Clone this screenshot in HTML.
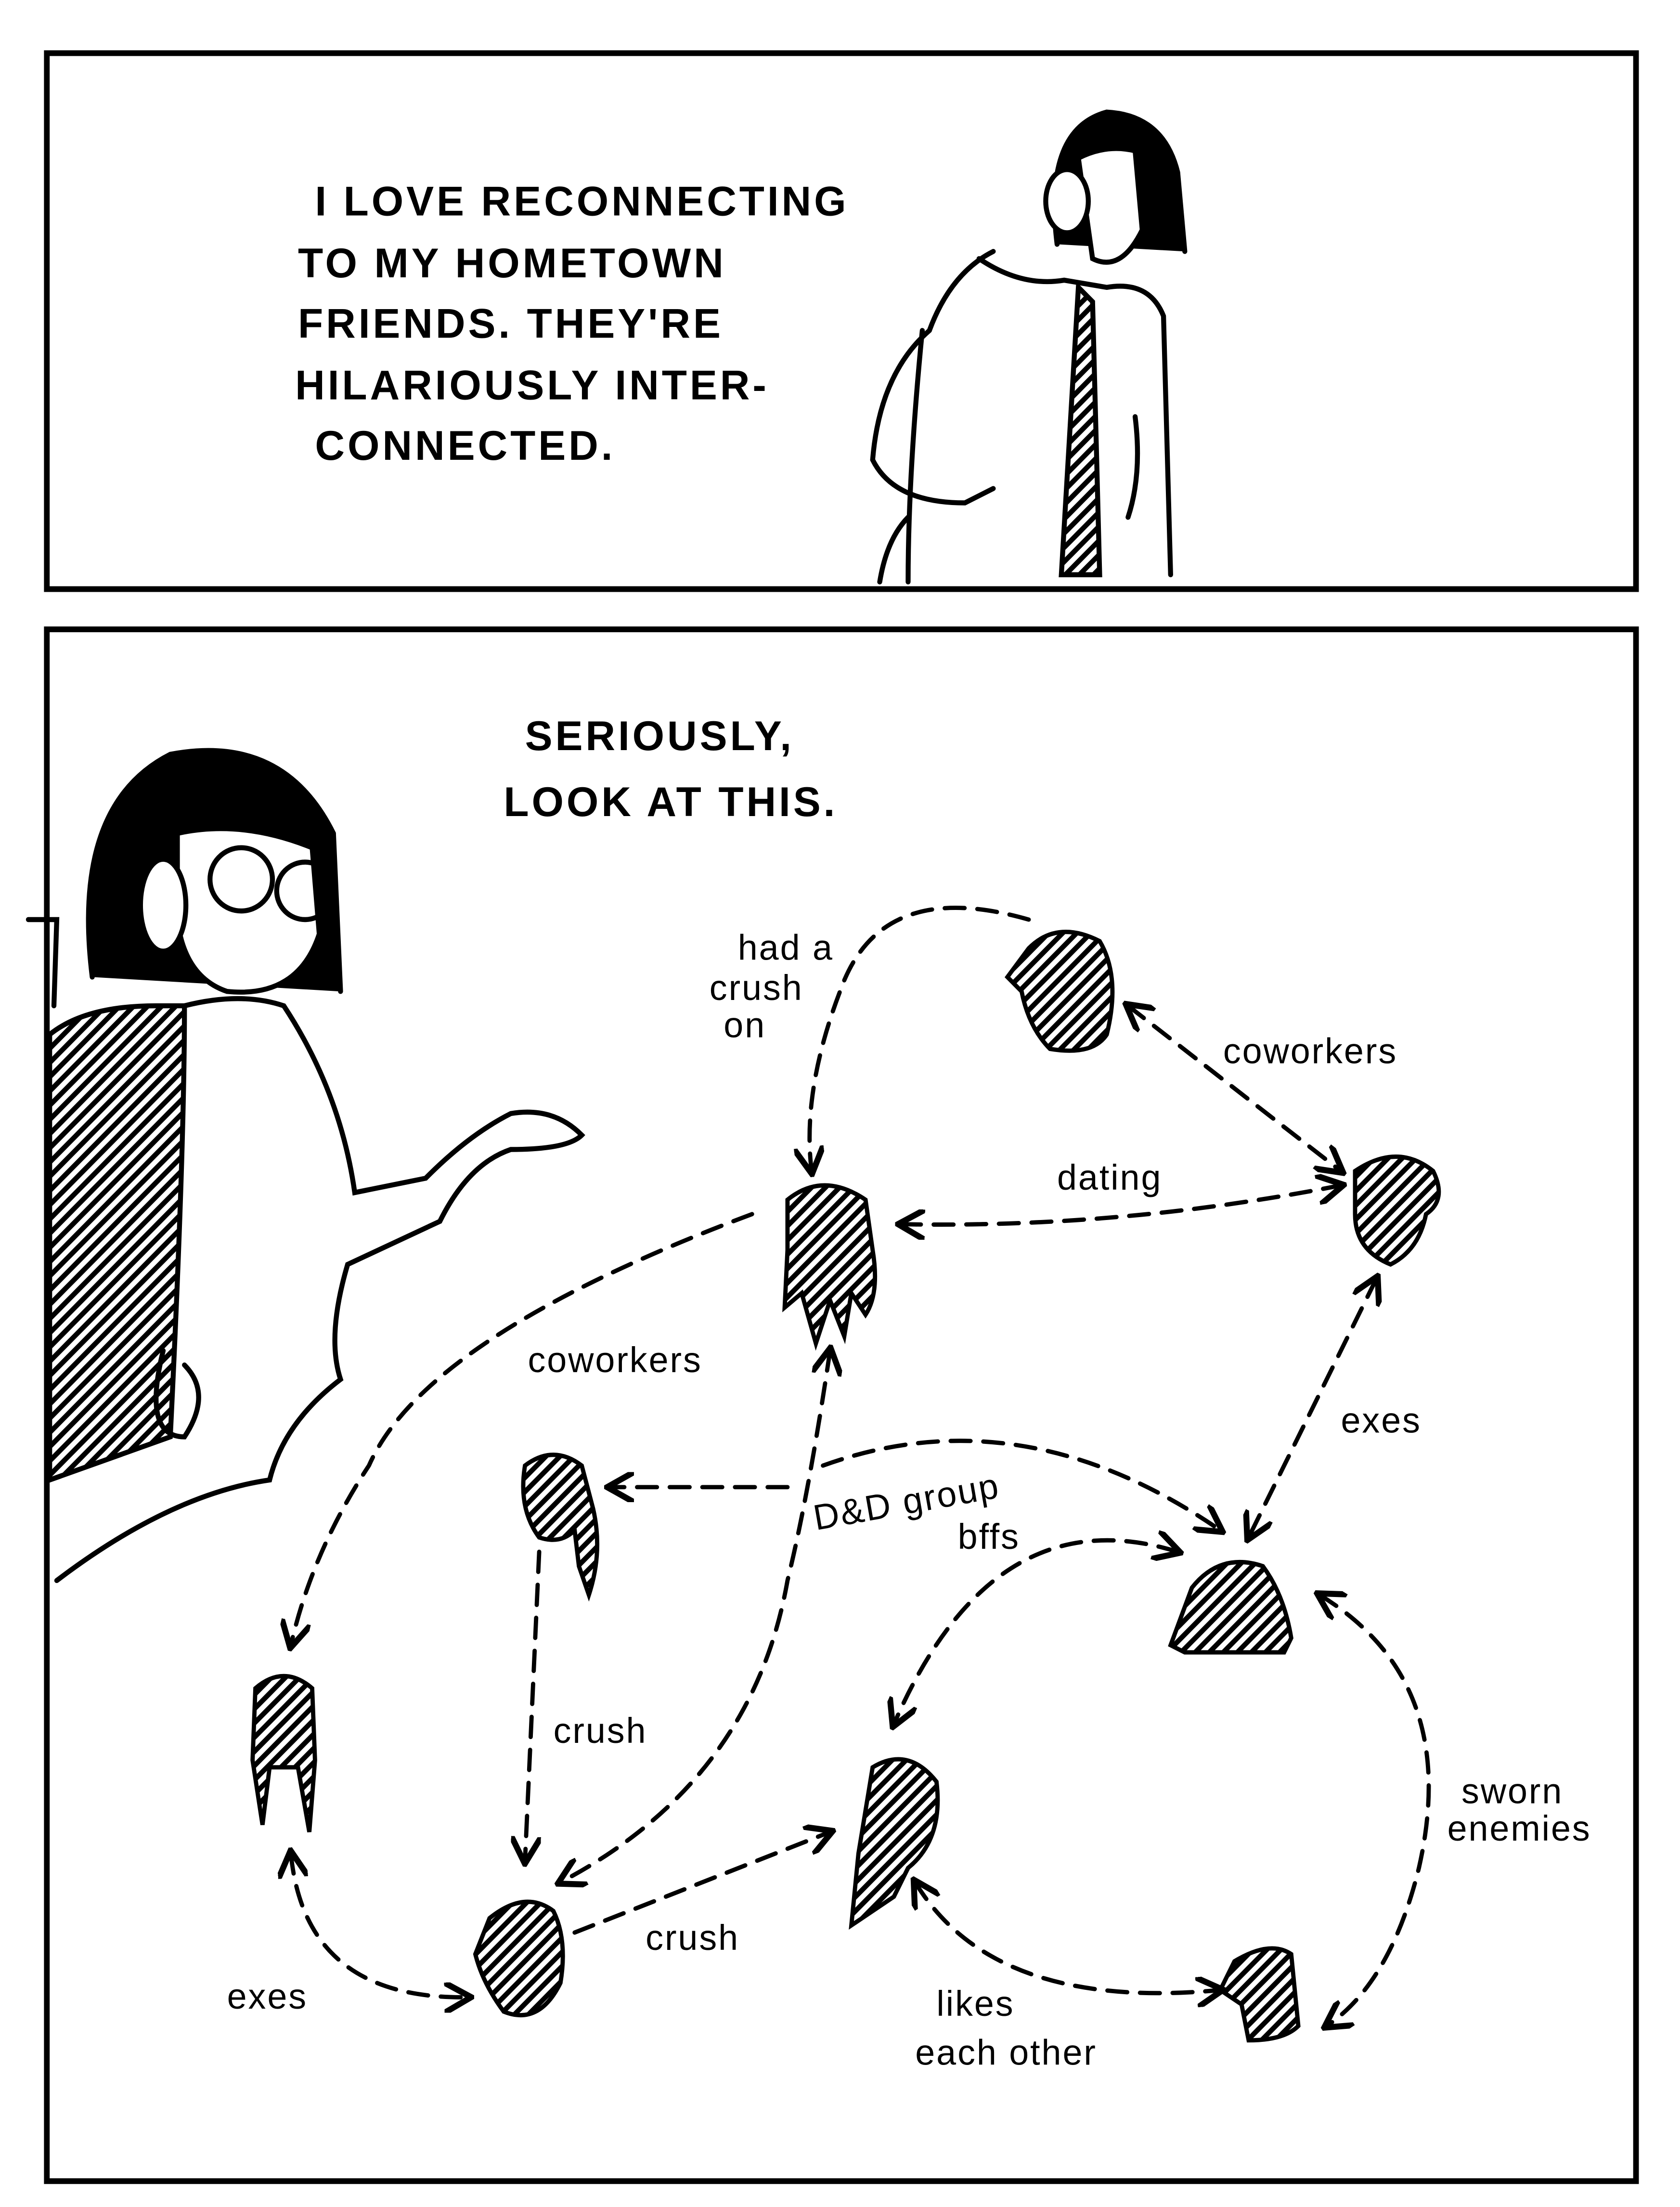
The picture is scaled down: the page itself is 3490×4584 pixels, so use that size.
<!DOCTYPE html>
<html><head><meta charset="utf-8"><style>
html,body{margin:0;padding:0;background:#fff;}
svg{display:block;}
text{font-family:"Liberation Sans",sans-serif;fill:#000;}
.cap{font-size:29px;font-weight:bold;letter-spacing:2px;}
.lbl{font-size:25px;letter-spacing:1px;}
</style></head><body>
<svg width="3490" height="4584" viewBox="0 0 1184 1536" preserveAspectRatio="none" xmlns="http://www.w3.org/2000/svg">
<defs>
<pattern id="h" width="7" height="7" patternUnits="userSpaceOnUse" patternTransform="rotate(45)">
<rect width="7" height="7" fill="#fff"/><rect width="3.5" height="7" fill="#000"/></pattern>
<marker id="a" viewBox="0 0 10 10" refX="8" refY="5" markerWidth="7" markerHeight="7" orient="auto-start-reverse">
<path d="M0,0 L9,5 L0,10" fill="none" stroke="#000" stroke-width="2"/></marker>
</defs>
<rect x="0" y="0" width="1184" height="1536" fill="#fff"/>
<rect x="33" y="37" width="1120" height="373" fill="none" stroke="#000" stroke-width="4"/>
<rect x="33" y="438" width="1120" height="1080" fill="none" stroke="#000" stroke-width="4"/>

<g class="cap">
<text x="222" y="150">I LOVE RECONNECTING</text>
<text x="210" y="193">TO MY HOMETOWN</text>
<text x="210" y="235">FRIENDS. THEY'RE</text>
<text x="208" y="278">HILARIOUSLY INTER-</text>
<text x="222" y="320">CONNECTED.</text>
<text x="370" y="522">SERIOUSLY,</text>
<text x="355" y="568">LOOK AT THIS.</text>
</g>

<!-- top person -->
<g fill="none" stroke="#000" stroke-width="3.5" stroke-linecap="round">
<path d="M745,170 Q735,90 780,78 Q820,80 830,120 L835,175" fill="#000"/>
<path d="M760,110 Q780,100 800,105 L805,160 Q790,190 770,180 Z" fill="#fff"/>
<ellipse cx="752" cy="140" rx="15" ry="22" fill="#fff"/>
<path d="M700,175 Q670,190 655,230 Q620,260 615,320 Q630,350 680,350 L700,340"/>
<path d="M690,180 Q720,200 750,195 L780,200 Q810,195 820,220 L825,400"/>
<path d="M650,230 Q640,330 640,405"/>
<path d="M620,405 Q625,375 640,360"/>
<path d="M760,200 L770,210 L775,400 L748,400 Z" fill="url(#h)"/>
<path d="M800,290 Q805,330 795,360"/>
</g>

<!-- left person -->
<g fill="none" stroke="#000" stroke-width="3.5" stroke-linecap="round">
<path d="M65,680 Q50,560 120,525 Q200,510 235,580 L240,690" fill="#000"/>
<path d="M125,580 Q170,570 220,590 L225,650 Q210,695 160,690 Q130,680 125,640 Z" fill="#fff"/>
<ellipse cx="115" cy="630" rx="16" ry="32" fill="#fff"/>
<circle cx="170" cy="612" r="22" fill="none"/><circle cx="215" cy="620" r="20" fill="none"/>
<path d="M35,720 Q60,700 110,700 L130,700 Q130,800 120,1000 L35,1030 Z" fill="url(#h)"/>
<path d="M130,700 Q170,690 200,700 Q240,760 250,830 L300,820 Q330,790 360,775 Q390,770 410,790 Q400,800 360,800 Q330,810 310,850 L245,880 Q230,930 240,960 Q200,990 190,1030 Q120,1040 40,1100"/>
<path d="M115,940 Q100,1000 130,1000 Q150,970 130,950"/>
<path d="M20,640 L40,640 L38,700"/>
</g>

<!-- heads -->
<g stroke="#000" stroke-width="3" fill="url(#h)">
<path d="M725,660 Q745,640 775,655 Q790,680 780,720 Q770,735 740,730 Q725,715 720,690 L710,680 Z"/>
<path d="M555,835 Q580,815 610,835 L615,870 Q620,900 610,915 L600,900 L595,930 L585,905 L575,935 L565,900 L553,910 L555,870 Z"/>
<path d="M955,815 Q985,795 1010,815 Q1020,835 1005,845 Q1000,870 980,880 Q955,870 955,845 Z"/>
<path d="M370,1020 Q390,1005 410,1020 L418,1050 Q425,1080 415,1110 L408,1090 L405,1065 Q395,1075 380,1070 Q365,1050 370,1020 Z"/>
<path d="M840,1105 Q860,1080 890,1090 Q905,1110 910,1140 L905,1150 L835,1150 L825,1145 Z"/>
<path d="M180,1175 Q200,1158 220,1175 L222,1225 L218,1275 L210,1230 L190,1230 L185,1270 L178,1225 Z"/>
<path d="M345,1335 Q370,1315 390,1330 Q400,1350 395,1380 Q380,1410 355,1400 Q340,1380 335,1360 Z"/>
<path d="M615,1230 Q640,1215 660,1240 Q665,1280 640,1300 L630,1320 L600,1340 L605,1290 Z"/>
<path d="M870,1365 Q895,1350 910,1360 L915,1410 Q905,1420 880,1420 L875,1395 L860,1385 Z"/>
</g>

<!-- connectors -->
<g fill="none" stroke="#000" stroke-width="3" stroke-dasharray="14,9" stroke-linecap="round" marker-end="url(#a)">
<path d="M725,640 Q620,610 592,690 Q565,760 572,815"/>
<path d="M795,700 L945,815" marker-start="url(#a)"/>
<path d="M635,852 Q790,855 945,825" marker-start="url(#a)"/>
<path d="M970,890 L880,1070" marker-start="url(#a)"/>
<path d="M530,845 Q300,930 260,1020 Q220,1080 205,1145"/>
<path d="M555,1035 L430,1035"/>
<path d="M580,1020 Q720,970 860,1065"/>
<path d="M585,940 Q570,1040 555,1100 Q530,1240 395,1310" marker-start="url(#a)"/>
<path d="M830,1080 Q700,1040 630,1200" marker-start="url(#a)"/>
<path d="M380,1080 L370,1295"/>
<path d="M205,1290 Q215,1392 330,1390" marker-start="url(#a)"/>
<path d="M405,1345 L585,1275"/>
<path d="M645,1310 Q700,1400 860,1385" marker-start="url(#a)"/>
<path d="M930,1110 Q1030,1170 1000,1300 Q980,1380 935,1410" marker-start="url(#a)"/>
</g>

<g class="lbl">
<text x="520" y="668">had a</text>
<text x="500" y="696">crush</text>
<text x="510" y="722">on</text>
<text x="862" y="740">coworkers</text>
<text x="745" y="828">dating</text>
<text x="945" y="997">exes</text>
<text x="372" y="955">coworkers</text>
<text x="575" y="1065" transform="rotate(-10 575 1065)">D&amp;D group</text>
<text x="675" y="1078">bffs</text>
<text x="390" y="1213">crush</text>
<text x="160" y="1398">exes</text>
<text x="455" y="1357">crush</text>
<text x="660" y="1403">likes</text>
<text x="645" y="1437">each other</text>
<text x="1030" y="1255">sworn</text>
<text x="1020" y="1281">enemies</text>
</g>
</svg>
</body></html>
